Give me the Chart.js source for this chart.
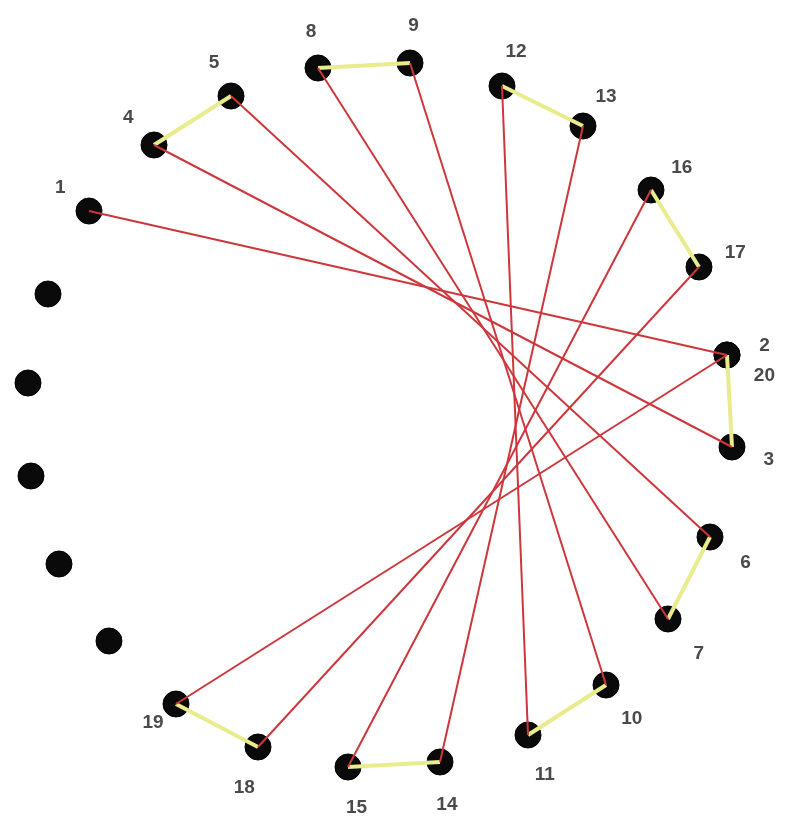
<!DOCTYPE html>
<html>
<head>
<meta charset="utf-8">
<script src="https://cdn.jsdelivr.net/npm/chart.js@4"></script>
<style>
  body { margin: 0; background: #fff; }
  #wrap { width: 806px; height: 816px; }
</style>
</head>
<body>
<div id="wrap"><canvas id="ring"></canvas></div>
<script>
// numbered dots 1..20 (picture units, y grows downward); 2 and 20 share a dot
let numLabels = ['1','2','3','4','5','6','7','8','9','10','11','12','13','14','15','16','17','18','19','20'];
let numX = [89, 727, 732, 154, 231, 710, 668, 318, 410, 606, 528, 502, 583, 440, 348, 651, 699, 258, 176, 727];
let numY = [211, 355, 447, 145, 96, 537, 619, 68, 63, 685, 735, 86, 126, 762, 767, 190, 267, 747, 704, 355];

// dots without a number (left side)
let freeX = [48, 28, 31, 59, 109];
let freeY = [294, 383, 476, 564, 641];

// connections by number
let redPairs = [[1,2],[3,4],[5,6],[7,8],[9,10],[11,12],[13,14],[15,16],[17,18],[19,20]];
let yellowPairs = [[2,3],[4,5],[6,7],[8,9],[10,11],[12,13],[14,15],[16,17],[18,19]];

// small hand nudges for a few labels (px)
let nudge = { '1': [4, -3], '2': [-2, -5], '20': [-2, -5], '3': [-3, 6], '6': [-2, 9], '7': [-2, 9], '15': [12, -2], '19': [0, -17] };

function pt(n) { return { x: numX[n - 1], y: numY[n - 1] }; }

let datasets = [];
redPairs.forEach(function(p) {
  datasets.push({ data: [pt(p[0]), pt(p[1])], showLine: true, pointRadius: 0,
    borderColor: 'rgb(205,55,60)', borderWidth: 2, order: 0 });
});
yellowPairs.forEach(function(p) {
  datasets.push({ data: [pt(p[0]), pt(p[1])], showLine: true, pointRadius: 0,
    borderColor: 'rgb(232,236,140)', borderWidth: 4, order: 1 });
});

let dots = [];
numX.forEach(function(x, i) { dots.push({ x: x, y: numY[i] }); });
freeX.forEach(function(x, i) { dots.push({ x: x, y: freeY[i] }); });
datasets.push({ data: dots, showLine: false, pointRadius: 13, pointHoverRadius: 13,
  backgroundColor: '#0a0a0a', borderColor: '#000', borderWidth: 1, order: 2 });

let numberLabels = {
  id: 'numberLabels',
  afterDatasetsDraw(chart) {
    let ctx = chart.ctx, xs = chart.scales.x, ys = chart.scales.y;
    let all = numX.slice(0, 19).concat(freeX), allY = numY.slice(0, 19).concat(freeY);
    let cx = 0, cy = 0;
    all.forEach(function(v, i) { cx += xs.getPixelForValue(v); cy += ys.getPixelForValue(allY[i]); });
    cx /= all.length; cy /= all.length;
    ctx.save();
    ctx.font = 'bold 19px "Liberation Sans", Arial, sans-serif';
    ctx.fillStyle = '#4a4a4a';
    ctx.textAlign = 'center';
    ctx.textBaseline = 'middle';
    let seen = {};
    numLabels.forEach(function(t, i) {
      let px = xs.getPixelForValue(numX[i]), py = ys.getPixelForValue(numY[i]);
      let dx = px - cx, dy = py - cy, d = Math.sqrt(dx * dx + dy * dy);
      let key = numX[i] + ',' + numY[i];
      let stack = seen[key] || 0;
      seen[key] = stack + 1;
      let n = nudge[t] || [0, 0];
      ctx.fillText(t, px + dx / d * 40 + n[0], py + dy / d * 40 + 3 + stack * 30 + n[1]);
    });
    ctx.restore();
  }
};

new Chart(document.getElementById('ring'), {
  type: 'scatter',
  data: { datasets: datasets },
  options: {
    responsive: true,
    maintainAspectRatio: false,
    animation: false,
    layout: { padding: 0, autoPadding: false },
    plugins: { legend: { display: false }, tooltip: { enabled: false } },
    scales: {
      x: { display: false, min: 0, max: 806 },
      y: { display: false, min: 0, max: 816, reverse: true }
    }
  },
  plugins: [numberLabels]
});
</script>
</body>
</html>
